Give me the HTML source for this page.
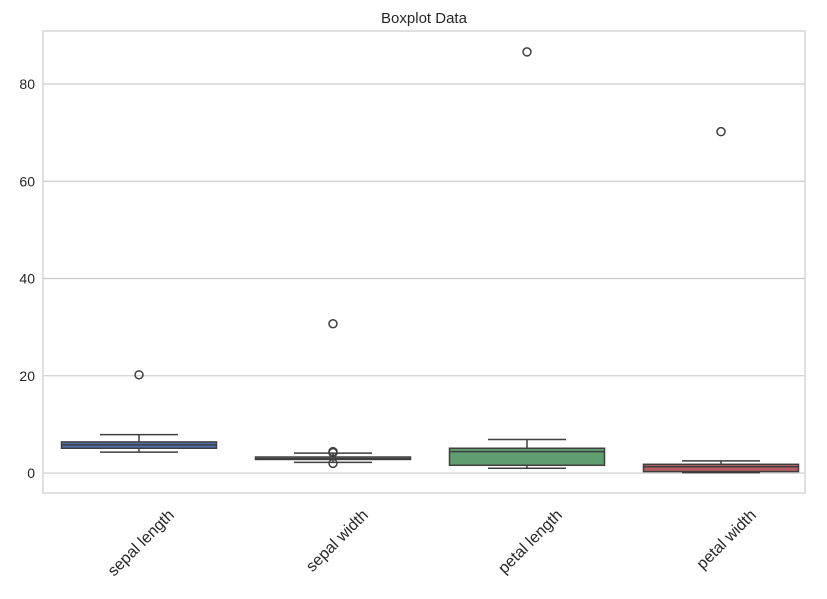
<!DOCTYPE html>
<html><head><meta charset="utf-8"><style>
body{margin:0;background:#fff;font-family:"Liberation Sans","DejaVu Sans",sans-serif;}
</style></head><body>
<svg id="chart" width="827" height="594" xmlns="http://www.w3.org/2000/svg">
<text x="424" y="23" text-anchor="middle" font-size="15" fill="#262626">Boxplot Data</text>
<g id="grid"></g>
<g id="boxes"></g>
<rect x="43" y="31" width="762" height="462" fill="none" stroke="#cccccc" stroke-width="1.2"/>
</svg>
<script>
const categories = ["sepal length","sepal width","petal length","petal width"];
const whiskerLow = [4.3, 2.2, 1.0, 0.1];
const q1 = [5.1, 2.8, 1.6, 0.3];
const median = [5.8, 3.0, 4.4, 1.3];
const q3 = [6.4, 3.3, 5.1, 1.8];
const whiskerHigh = [7.9, 4.1, 6.9, 2.5];
const outliers = [[20.2],[30.7,4.4,4.2,2.0],[86.6],[70.2]];
const colors = ["#4f6eab","#cfcfcf","#5f9e6e","#b55d60"];
const yTicks = [0,20,40,60,80];

const svgEl = document.getElementById('chart');
const NS = 'http://www.w3.org/2000/svg';
const yMin=-4.1, yMax=90.9, pTop=31, pBottom=493, pLeft=43, pRight=805;
const yS = v => pBottom - (v - yMin)/(yMax - yMin)*(pBottom - pTop);
const band = 194;
const xc = i => 139 + band*i;
function mk(tag, attrs, parent){const e=document.createElementNS(NS,tag);for(const k in attrs)e.setAttribute(k,attrs[k]);(parent||svgEl).appendChild(e);return e;}
const grid=document.getElementById('grid'), boxes=document.getElementById('boxes');
yTicks.forEach(t=>{
  const l=mk('line',{x1:pLeft,x2:pRight,y1:yS(t),y2:yS(t),stroke:'#cccccc','stroke-width':1.2},grid);
  
  
  const tx=mk('text',{x:pLeft-8,y:yS(t)+5,'text-anchor':'end','font-size':14,fill:'#262626'},grid);
  tx.textContent=t;
  
  
});
const bw=155, cw=78;
categories.forEach((c,i)=>{
  const x=xc(i);
  const g=mk('g',{},boxes);
  
  
  const st={stroke:'#3f3f3f','stroke-width':1.5};
  mk('line',Object.assign({x1:x,x2:x,y1:yS(q3[i]),y2:yS(whiskerHigh[i])},st),g);
  mk('line',Object.assign({x1:x,x2:x,y1:yS(q1[i]),y2:yS(whiskerLow[i])},st),g);
  mk('line',Object.assign({x1:x-cw/2,x2:x+cw/2,y1:yS(whiskerHigh[i]),y2:yS(whiskerHigh[i])},st),g);
  mk('line',Object.assign({x1:x-cw/2,x2:x+cw/2,y1:yS(whiskerLow[i]),y2:yS(whiskerLow[i])},st),g);
  mk('rect',Object.assign({x:x-bw/2,y:yS(q3[i]),width:bw,height:Math.max(yS(q1[i])-yS(q3[i]),1),fill:colors[i]},st),g);
  mk('line',Object.assign({x1:x-bw/2,x2:x+bw/2,y1:yS(median[i]),y2:yS(median[i])},st),g);
  outliers[i].forEach(o=>{
    const ci=mk('circle',{cx:x,cy:yS(o),r:4,fill:'none',stroke:'#3f3f3f','stroke-width':1.5},g);
    
    
  });
  const tx=mk('text',{'font-size':16,fill:'#262626','text-anchor':'end',transform:`translate(${x+36},${pBottom+23}) rotate(-45)`},svgEl);
  tx.textContent=c;
  
  
});
</script>
</body></html>
